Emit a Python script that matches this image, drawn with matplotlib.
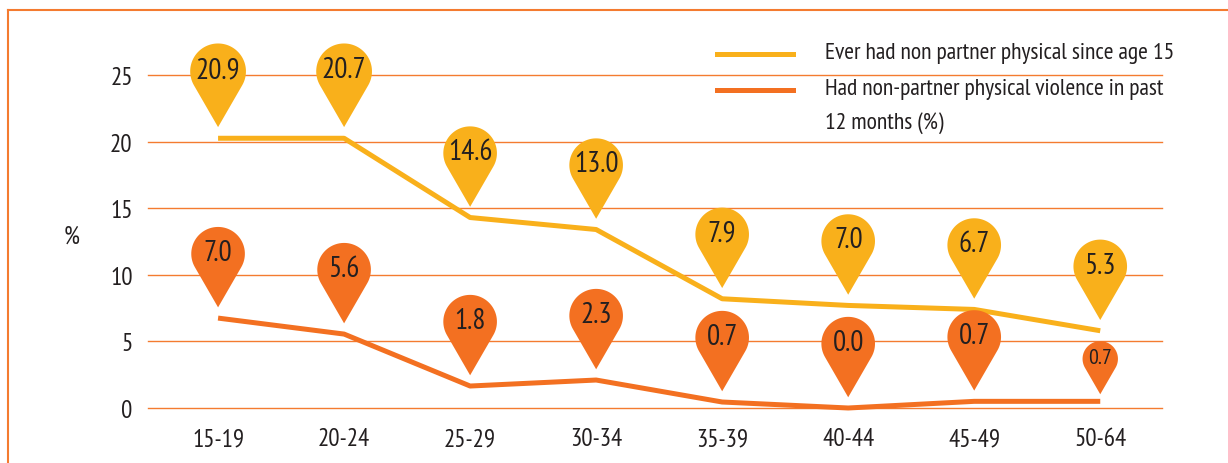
import matplotlib
matplotlib.use("Agg")
import matplotlib.pyplot as plt
import numpy as np
from matplotlib.path import Path
from matplotlib.lines import Line2D

# Age groups and the two series (line positions as drawn, plus printed labels)
age_groups = ["15-19", "20-24", "25-29", "30-34", "35-39", "40-44", "45-49", "50-64"]
ever_values = [20.25, 20.25, 14.3, 13.4, 8.2, 7.7, 7.4, 5.8]
ever_labels = ["20.9", "20.7", "14.6", "13.0", "7.9", "7.0", "6.7", "5.3"]
past12_values = [6.75, 5.55, 1.65, 2.1, 0.45, 0.0, 0.5, 0.5]
past12_labels = ["7.0", "5.6", "1.8", "2.3", "0.7", "0.0", "0.7", "0.7"]

legend_ever = "Ever had non partner physical since age 15"
legend_past12 = ["Had non-partner physical violence in past", "12 months (%)"]
y_ticks = [0, 5, 10, 15, 20, 25]

YELLOW = "#F9B01B"
ORANGE = "#F37021"
GRID = "#F47B30"
TEXT = "#231F20"

plt.rcParams['font.family'] = ['PT Sans Narrow', 'DejaVu Sans']

W, H = 1228, 464
fig = plt.figure(figsize=(W / 100, H / 100), dpi=100)
ax = fig.add_axes([148 / W, 55 / H, (1162 - 148) / W, (409 - 76) / H])

# Pin marker: tip slightly above the data point, round head above it
tip_off = 0.4
ang = np.radians(np.linspace(-30, 210, 60))
head = np.column_stack([np.cos(ang), np.sin(ang) + 2 + tip_off])
verts = np.vstack([[0, tip_off], head, [0, tip_off]])
codes = [Path.MOVETO] + [Path.LINETO] * (len(verts) - 2) + [Path.CLOSEPOLY]
pin = Path(verts, codes)
extent = 3 + tip_off
r_pt = 19.3  # radius of a pin head in points
ms_big = r_pt * extent / 0.5

x = np.arange(len(age_groups))

for vals, labels, color, sizes in [
        (ever_values, ever_labels, YELLOW, [1.04, 1.04] + [1.0] * 6),
        (past12_values, past12_labels, ORANGE, [1.0] * 7 + [0.66])]:
    ax.plot(x, vals, color=color, lw=3.6, clip_on=False, zorder=3,
            solid_capstyle="butt")
    ax.scatter(x, vals, marker=pin, s=[(ms_big * s) ** 2 for s in sizes],
               color=color, linewidths=0, clip_on=False, zorder=4)
    for xi, v, lab, s in zip(x, vals, labels, sizes):
        ax.annotate(lab, (xi, v), xytext=(0, (2 + tip_off) * r_pt * s + 1),
                    textcoords="offset points", ha="center", va="center",
                    fontsize=21 * (0.75 if s < 1 else 1), color=TEXT,
                    zorder=5, annotation_clip=False)

ax.set_xlim(-0.556, 7.49)
ax.set_ylim(0, 25)
ax.set_yticks(y_ticks)
ax.set_xticks(x)
ax.set_xticklabels(age_groups)
ax.tick_params(length=0, labelsize=18, colors=TEXT)
ax.tick_params(axis="x", pad=14)
ax.tick_params(axis="y", pad=11)
ax.grid(axis="y", color=GRID, lw=1.0, zorder=0)
for gl in ax.get_ygridlines():
    gl.set_clip_on(False)
ax.set_axisbelow(True)
for sp in ax.spines.values():
    sp.set_visible(False)

fig.text(72 / W, 1 - 237 / H, "%", fontsize=18, color=TEXT,
         ha="center", va="center")

# Legend drawn by hand so the second handle sits on the first text line
for yl, color in [(55, YELLOW), (91, ORANGE)]:
    fig.add_artist(Line2D([717 / W, 793 / W], [1 - yl / H, 1 - yl / H],
                          transform=fig.transFigure, color=color, lw=3.6))
for yt, txt in [(53, legend_ever), (90, legend_past12[0]), (123, legend_past12[1])]:
    fig.text(825 / W, 1 - yt / H, txt, fontsize=17, color=TEXT,
             ha="left", va="center")

# Thin orange frame on the left and top
fig.add_artist(Line2D([8 / W, 8 / W], [0, 1 - 11 / H],
                      transform=fig.transFigure, color=GRID, lw=1.5))
fig.add_artist(Line2D([8 / W, 1], [1 - 11 / H, 1 - 11 / H],
                      transform=fig.transFigure, color=GRID, lw=1.5))

fig.savefig("out.png", dpi=100)
